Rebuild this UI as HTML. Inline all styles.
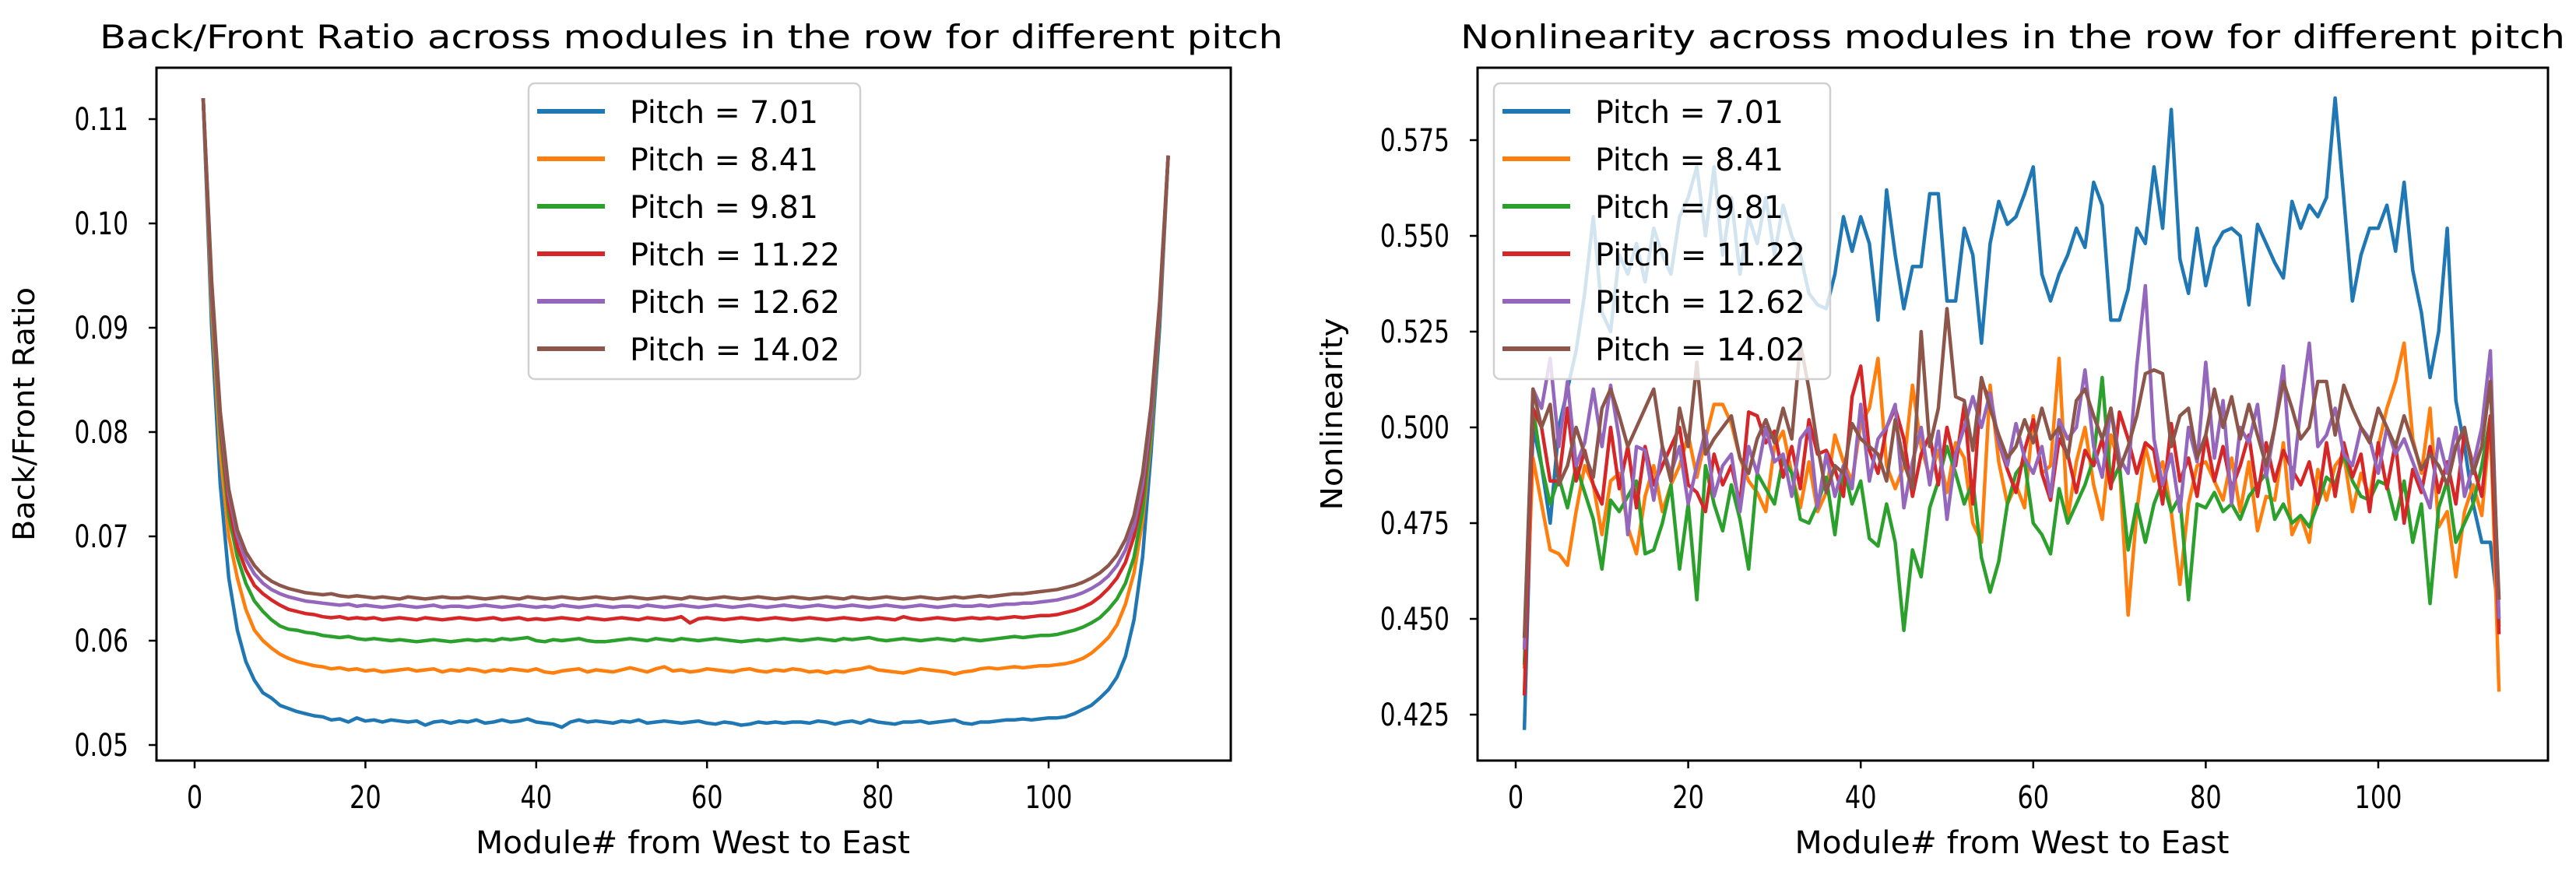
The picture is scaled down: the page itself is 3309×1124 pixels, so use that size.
<!DOCTYPE html>
<html><head><meta charset="utf-8"><style>
html,body{margin:0;padding:0;background:#fff;}
svg{display:block;font-family:"DejaVu Sans","Liberation Sans",sans-serif;}
</style></head><body>
<svg id="chart" width="3309" height="1124" viewBox="0 0 3309 1124" xmlns="http://www.w3.org/2000/svg"></svg>
<script>
const xTicks = [0,20,40,60,80,100];
const leftYTicks = [0.05,0.06,0.07,0.08,0.09,0.10,0.11];
const leftYTickLabels = ["0.05","0.06","0.07","0.08","0.09","0.10","0.11"];
const rightYTicks = [0.425,0.45,0.475,0.5,0.525,0.55,0.575];
const rightYTickLabels = ["0.425","0.450","0.475","0.500","0.525","0.550","0.575"];
const seriesNames = ["Pitch = 7.01","Pitch = 8.41","Pitch = 9.81","Pitch = 11.22","Pitch = 12.62","Pitch = 14.02"];
const colors = ["#1f77b4","#ff7f0e","#2ca02c","#d62728","#9467bd","#8c564b"];

const bfBlue = [.1120,.0900,.0750,.0660,.0610,.0580,.0562,.0550,.0545,.0538,.0535,.0532,.0530,.0528,
.0527,.0524,.0525,.0522,.0526,.0523,.0524,.0522,.0524,.0523,.0522,.0523,.0519,.0522,.0523,.0521,
.0523,.0522,.0524,.0521,.0522,.0524,.0522,.0523,.0525,.0522,.0521,.0520,.0517,.0522,.0524,.0522,.0523,.0522,.0521,.0523,
.0522,.0524,.0521,.0522,.0523,.0522,.0521,.0522,.0523,.0521,.0520,.0522,.0521,.0519,.0520,.0522,.0521,.0522,.0521,.0522,
.0522,.0521,.0523,.0522,.0520,.0522,.0523,.0521,.0524,.0522,.0521,.0520,.0522,.0522,.0523,.0521,.0522,.0523,.0524,.0521,
.0520,.0522,.0522,.0523,.0524,.0524,.0525,.0524,.0525,.0526,
.0526,.0527,.0530,.0534,.0538,.0545,.0553,.0565,.0585,.0620,.0680,.0780,.0900,.1065];
const bfOrange = [.1120,.0920,.0780,.0700,.0660,.0630,.0610,.0600,.0593,.0587,.0583,.0580,.0578,.0576,
.0575,.0573,.0574,.0572,.0573,.0571,.0572,.0570,.0571,.0572,.0573,.0571,.0572,.0573,.0570,.0572,
.0571,.0573,.0572,.0570,.0572,.0571,.0573,.0572,.0571,.0573,.0570,.0569,.0571,.0572,.0573,.0570,.0572,.0571,.0570,.0572,
.0574,.0572,.0570,.0573,.0575,.0571,.0572,.0570,.0571,.0573,.0572,.0571,.0570,.0572,.0573,.0571,.0570,.0572,.0571,.0573,
.0572,.0570,.0571,.0569,.0571,.0570,.0572,.0573,.0575,.0572,.0571,.0570,.0569,.0571,.0573,.0572,.0571,.0570,.0568,.0570,
.0571,.0573,.0574,.0573,.0574,.0575,.0574,.0575,.0576,.0576,
.0577,.0578,.0580,.0583,.0588,.0595,.0603,.0615,.0635,.0665,.0715,.0795,.0910,.1065];
const bfGreen = [.1120,.0930,.0800,.0720,.0680,.0655,.0638,.0628,.0620,.0614,.0611,.0610,.0608,.0607,
.0605,.0604,.0603,.0604,.0602,.0601,.0602,.0601,.0600,.0601,.0600,.0599,.0600,.0601,.0600,.0599,
.0600,.0601,.0600,.0601,.0600,.0602,.0601,.0602,.0603,.0600,.0599,.0601,.0600,.0601,.0602,.0600,.0599,.0599,.0600,.0601,
.0602,.0601,.0600,.0602,.0601,.0600,.0602,.0601,.0600,.0601,.0602,.0601,.0600,.0599,.0600,.0601,.0600,.0601,.0602,.0601,
.0600,.0601,.0602,.0601,.0600,.0602,.0601,.0602,.0603,.0601,.0600,.0601,.0602,.0601,.0600,.0601,.0602,.0601,.0600,.0602,
.0601,.0600,.0601,.0602,.0603,.0604,.0603,.0604,.0605,.0605,
.0606,.0608,.0610,.0613,.0617,.0622,.0630,.0640,.0655,.0680,.0725,.0800,.0910,.1065];
const bfRed = [.1120,.0935,.0810,.0730,.0690,.0668,.0653,.0645,.0639,.0634,.0630,.0628,.0626,.0625,
.0623,.0622,.0623,.0621,.0622,.0621,.0622,.0620,.0621,.0622,.0621,.0620,.0622,.0621,.0620,.0621,
.0622,.0621,.0620,.0621,.0622,.0620,.0621,.0622,.0620,.0621,.0620,.0621,.0622,.0621,.0620,.0622,.0621,.0620,.0621,.0622,
.0621,.0620,.0622,.0621,.0620,.0621,.0623,.0617,.0621,.0622,.0621,.0620,.0621,.0622,.0621,.0620,.0621,.0622,.0621,.0620,
.0621,.0622,.0621,.0620,.0621,.0622,.0621,.0620,.0621,.0622,.0621,.0620,.0623,.0621,.0620,.0621,.0622,.0621,.0620,.0621,
.0622,.0621,.0622,.0621,.0622,.0623,.0622,.0623,.0624,.0624,
.0625,.0627,.0629,.0632,.0636,.0642,.0650,.0660,.0675,.0700,.0740,.0810,.0915,.1065];
const bfPurple = [.1120,.0940,.0815,.0740,.0700,.0678,.0664,.0655,.0649,.0645,.0642,.0640,.0638,.0637,
.0636,.0635,.0634,.0635,.0633,.0634,.0633,.0632,.0633,.0634,.0633,.0632,.0633,.0634,.0632,.0633,
.0633,.0632,.0633,.0634,.0633,.0632,.0633,.0634,.0633,.0632,.0633,.0632,.0634,.0633,.0632,.0633,.0634,.0633,.0632,.0633,
.0633,.0632,.0634,.0633,.0632,.0633,.0634,.0633,.0632,.0633,.0634,.0633,.0632,.0633,.0634,.0633,.0632,.0633,.0634,.0633,
.0632,.0633,.0634,.0633,.0632,.0633,.0634,.0633,.0632,.0633,.0634,.0633,.0632,.0633,.0634,.0633,.0632,.0633,.0634,.0633,
.0633,.0634,.0633,.0634,.0635,.0635,.0636,.0636,.0637,.0638,
.0639,.0641,.0643,.0646,.0650,.0655,.0662,.0672,.0687,.0710,.0750,.0815,.0920,.1065];
const bfBrown = [.1120,.0945,.0820,.0745,.0706,.0685,.0672,.0663,.0657,.0653,.0650,.0648,.0646,.0645,
.0644,.0645,.0643,.0642,.0643,.0642,.0641,.0642,.0641,.0640,.0642,.0641,.0640,.0641,.0642,.0641,
.0641,.0642,.0641,.0640,.0641,.0642,.0641,.0640,.0642,.0641,.0640,.0641,.0642,.0641,.0640,.0641,.0642,.0641,.0640,.0641,
.0642,.0641,.0640,.0641,.0642,.0641,.0640,.0642,.0641,.0640,.0641,.0642,.0641,.0640,.0641,.0642,.0641,.0640,.0641,.0642,
.0641,.0640,.0641,.0642,.0641,.0640,.0642,.0641,.0640,.0641,.0642,.0641,.0640,.0641,.0642,.0641,.0640,.0641,.0642,.0641,
.0642,.0643,.0642,.0643,.0644,.0645,.0645,.0646,.0647,.0648,
.0649,.0651,.0653,.0656,.0660,.0665,.0672,.0682,.0697,.0720,.0760,.0825,.0925,.1065];

const nlBlue = [.421,.500,.490,.475,.500,.510,.520,.535,.555,.530,
.525,.545,.540,.548,.538,.552,.545,.540,.555,.560,
.568,.550,.568,.545,.560,.540,.555,.548,.560,.545,
.558,.550,.545,.535,.532,.531,.540,.555,.546,.555,
.548,.528,.562,.545,.531,.542,.542,.561,.561,.533,
.533,.552,.545,.522,.548,.559,.553,.555,.561,.568,
.540,.533,.540,.545,.552,.547,.564,.558,.528,.528,
.536,.552,.548,.568,.552,.583,.544,.535,.552,.537,
.547,.551,.552,.550,.532,.553,.548,.543,.539,.559,
.552,.558,.555,.560,.586,.560,.533,.545,.552,.552,
.558,.546,.564,.541,.530,.513,.525,.552,.507,.495,
.480,.470,.470,.450];
const nlOrange = [.437,.492,.480,.468,.467,.464,.478,.490,.485,.472,
.486,.488,.474,.467,.482,.490,.478,.485,.490,.498,
.487,.497,.506,.506,.501,.492,.486,.483,.478,.495,
.499,.488,.479,.491,.478,.483,.498,.491,.486,.501,
.505,.518,.490,.484,.490,.511,.495,.487,.494,.483,
.496,.492,.475,.470,.511,.491,.480,.485,.479,.503,
.488,.490,.518,.476,.491,.500,.485,.476,.498,.490,
.451,.478,.495,.486,.491,.478,.459,.480,.490,.491,
.486,.481,.492,.478,.491,.473,.482,.481,.496,.472,
.477,.470,.489,.481,.490,.493,.478,.488,.482,.495,
.505,.512,.522,.497,.488,.505,.474,.478,.461,.478,
.485,.477,.502,.431];
const nlGreen = [.438,.505,.490,.480,.487,.479,.490,.483,.476,.463,
.481,.478,.482,.486,.467,.468,.475,.485,.463,.480,
.455,.490,.480,.473,.485,.476,.463,.488,.484,.480,
.492,.488,.476,.475,.480,.487,.472,.490,.480,.486,
.471,.469,.480,.470,.447,.468,.461,.479,.486,.495,
.488,.480,.486,.466,.457,.465,.480,.488,.491,.475,
.472,.467,.484,.475,.480,.485,.492,.513,.485,.490,
.468,.480,.470,.480,.486,.478,.482,.455,.480,.479,
.483,.478,.480,.476,.482,.485,.488,.476,.480,.475,
.477,.474,.480,.487,.485,.493,.486,.482,.481,.486,
.485,.476,.486,.470,.480,.454,.479,.486,.470,.475,
.480,.490,.503,.448];
const nlRed = [.430,.505,.500,.486,.486,.505,.486,.494,.485,.480,
.500,.484,.495,.479,.495,.485,.490,.495,.500,.485,
.483,.478,.493,.485,.490,.480,.504,.503,.496,.499,
.487,.495,.484,.502,.493,.494,.489,.482,.508,.516,
.494,.488,.500,.505,.497,.482,.493,.498,.485,.500,
.490,.506,.480,.512,.507,.496,.489,.483,.494,.502,
.488,.481,.497,.493,.483,.494,.490,.497,.484,.504,
.497,.488,.496,.494,.480,.501,.486,.492,.482,.498,
.486,.495,.484,.490,.498,.482,.496,.486,.494,.489,
.485,.491,.480,.496,.482,.496,.487,.493,.478,.496,
.484,.496,.475,.489,.483,.495,.483,.491,.480,.499,
.490,.482,.503,.446];
const nlPurple = [.442,.510,.505,.518,.495,.512,.490,.496,.510,.495,
.511,.497,.472,.495,.494,.481,.495,.488,.495,.480,
.490,.499,.482,.490,.493,.478,.495,.488,.500,.491,
.493,.482,.497,.500,.479,.493,.482,.490,.484,.506,
.486,.497,.500,.506,.479,.491,.500,.485,.499,.476,
.493,.500,.508,.500,.509,.496,.490,.501,.492,.488,
.495,.482,.502,.497,.500,.515,.495,.487,.505,.492,
.488,.516,.537,.497,.485,.493,.478,.500,.491,.517,
.492,.507,.480,.500,.496,.506,.487,.500,.516,.484,
.505,.522,.495,.498,.505,.493,.490,.500,.497,.488,
.500,.493,.497,.491,.485,.479,.497,.488,.500,.482,
.490,.500,.520,.450];
const nlBrown = [.445,.510,.500,.506,.485,.490,.500,.493,.487,.505,
.510,.503,.495,.500,.505,.510,.495,.486,.505,.495,
.517,.493,.497,.500,.503,.492,.488,.497,.502,.496,
.505,.497,.522,.510,.495,.483,.490,.488,.501,.497,
.495,.493,.486,.502,.491,.484,.525,.495,.505,.531,
.508,.507,.494,.513,.505,.498,.492,.495,.502,.496,
.505,.497,.500,.492,.507,.510,.503,.497,.505,.489,
.495,.503,.514,.515,.514,.495,.503,.505,.492,.498,
.510,.500,.508,.497,.506,.498,.490,.500,.512,.505,
.497,.500,.512,.512,.498,.511,.505,.500,.496,.505,
.500,.495,.503,.496,.489,.493,.490,.485,.495,.500,
.488,.495,.512,.455];

const NS = "http://www.w3.org/2000/svg";
const svg = document.getElementById("chart");
function mk(tag, attrs, parent) {
  const e = document.createElementNS(NS, tag);
  for (const k in attrs) e.setAttribute(k, attrs[k]);
  (parent || svg).appendChild(e);
  return e;
}
function txt(parent, s, x, y, size, anchor, sx, len) {
  const t = mk("text", {x: 0, y: 0, "font-size": size, "text-anchor": anchor || "start", fill: "#000",
    transform: "translate(" + x + "," + y + ") scale(" + sx + ",1)"}, parent);
  if (len) { t.setAttribute("textLength", len); t.setAttribute("lengthAdjust", "spacingAndGlyphs"); }
  t.textContent = s;
  return t;
}

function drawPanel(cfg) {
  const g = mk("g", {});
  
  
  const xs = v => cfg.x0 + v * cfg.xUnit;
  const ys = v => cfg.yRef + (cfg.yRefVal - v) * cfg.yUnit;
  const sg = mk("g", {}, g);
  
  
  cfg.series.forEach((arr, i) => {
    const d = arr.map((v, j) => (j ? "L" : "M") + xs(j + 1).toFixed(1) + "," + ys(v).toFixed(1)).join(" ");
    const p = mk("path", {d: d, fill: "none", stroke: colors[i], "stroke-width": 4.5, "stroke-linejoin": "round"}, sg);
    
    
  });
  const fr = mk("rect", {x: cfg.L, y: cfg.T, width: cfg.R - cfg.L, height: cfg.B - cfg.T, fill: "none", stroke: "#000", "stroke-width": 3}, g);
  
  
  xTicks.forEach(v => {
    const x = xs(v);
    const tk = mk("line", {x1: x, x2: x, y1: cfg.B, y2: cfg.B + 10, stroke: "#000", "stroke-width": 2.5}, g);
    
    
    const tl = txt(g, String(v), x, 1038, 40, "middle", 0.8);
    
    
  });
  cfg.yTicks.forEach((v, i) => {
    const y = ys(v);
    const tk = mk("line", {x1: cfg.L - 10, x2: cfg.L, y1: y, y2: y, stroke: "#000", "stroke-width": 2.5}, g);
    
    
    const tl = txt(g, cfg.yLabels[i], cfg.L - 36, y + 14, 40, "end", 0.78);
    
    
  });
  const ti = txt(g, cfg.title, cfg.titleX, 62, 42, "start", 1, cfg.titleW);
  
  
  const xl = txt(g, "Module# from West to East", (cfg.L + cfg.R) / 2 - 280, 1096, 40, "start", 1, 558);
  
  
  const yl = mk("text", {x: 0, y: 0, "font-size": 38, fill: "#000", textLength: cfg.ylabW, lengthAdjust: "spacingAndGlyphs",
    transform: "translate(" + cfg.ylabX + "," + (532 + cfg.ylabW / 2) + ") rotate(-90)"}, g);
  yl.textContent = cfg.ylabel;
  
  
  const lg = mk("g", {}, g);
  
  
  mk("rect", {x: cfg.legX, y: 107, width: cfg.legW, height: 380, rx: 8, fill: "#fff", "fill-opacity": 0.8, stroke: "#d0d0d0", "stroke-width": 2.5}, lg);
  seriesNames.forEach((n, i) => {
    const y = 143 + i * 61;
    const e = mk("g", {}, lg);
    
    
    mk("line", {x1: cfg.legX + 11, x2: cfg.legX + 98, y1: y, y2: y, stroke: colors[i], "stroke-width": 6}, e);
    txt(e, n, cfg.legX + 130, y + 15, 40, "start", 1, n.length > 12 ? 270 : 242);
  });
}

drawPanel({name: "back-front-ratio-chart", L: 201, R: 1581, T: 87, B: 977, x0: 250, xUnit: 10.97,
  yRef: 957, yRefVal: 0.05, yUnit: 13400, yTicks: leftYTicks, yLabels: leftYTickLabels,
  series: [bfBlue, bfOrange, bfGreen, bfRed, bfPurple, bfBrown],
  title: "Back/Front Ratio across modules in the row for different pitch", titleX: 128, titleW: 1520,
  ylabel: "Back/Front Ratio", ylabX: 44, ylabW: 326, legX: 679, legW: 426});
drawPanel({name: "nonlinearity-chart", L: 1898, R: 3273, T: 87, B: 977, x0: 1947, xUnit: 11.08,
  yRef: 180, yRefVal: 0.575, yUnit: 4920, yTicks: rightYTicks, yLabels: rightYTickLabels,
  series: [nlBlue, nlOrange, nlGreen, nlRed, nlPurple, nlBrown],
  title: "Nonlinearity across modules in the row for different pitch", titleX: 1876, titleW: 1419,
  ylabel: "Nonlinearity", ylabX: 1724, ylabW: 247, legX: 1919, legW: 432});
</script>
</body></html>
